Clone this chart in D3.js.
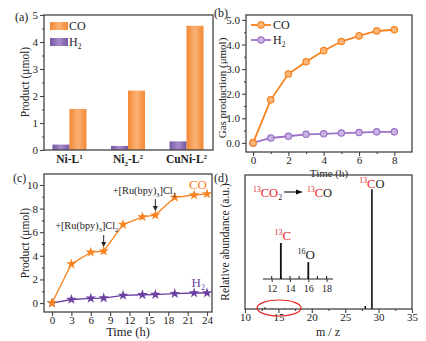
<!DOCTYPE html>
<html>
<head>
<meta charset="utf-8">
<script src="https://cdn.jsdelivr.net/npm/d3@7"></script>
<style>
  body { margin: 0; background: #fff; }
  svg { font-family: "Liberation Serif", "DejaVu Serif", serif; }
</style>
</head>
<body>
<svg id="fig" width="426" height="341"></svg>
<script>
// ---- data ----
// (a) product per catalyst
const catalysts = ['Ni-L1', 'Ni2-L2', 'CuNi-L2'];
const catH2 = [0.2, 0.15, 0.32];
const catCO = [1.52, 2.2, 4.6];

// (b) gas production vs time
const timeB = [0, 1, 2, 3, 4, 5, 6, 7, 8];
const coB = [0, 1.75, 2.8, 3.3, 3.75, 4.12, 4.35, 4.55, 4.6];
const h2B = [0, 0.2, 0.27, 0.35, 0.37, 0.4, 0.42, 0.45, 0.45];

// (c) long run with photosensitizer additions
const timeC = [0, 3, 6, 8, 11, 14, 16, 19, 22, 24];
const coC = [0, 3.3, 4.3, 4.4, 6.65, 7.3, 7.45, 8.95, 9.15, 9.25];
const h2C = [0, 0.3, 0.4, 0.42, 0.65, 0.7, 0.72, 0.8, 0.85, 0.85];
const additions = [8, 16];

// (d) mass spectrum
const mzMain = [12, 13, 14, 16, 28, 29];
const abMain = [0.3, 1.2, 0.4, 0.5, 2.5, 100];
const mzInset = [13, 16];
const abInset = [100, 47];

const ORANGE = '#f7821e', PURPLE_B = '#9b72c8', PURPLE_C = '#6b3fa0', FRAME = '#444';

const svg = d3.select('#fig');
const defs = svg.append('defs');
function grad(id, edge, mid) {
  const g = defs.append('linearGradient').attr('id', id).attr('x1', 0).attr('x2', 1);
  g.append('stop').attr('offset', '0%').attr('stop-color', edge);
  g.append('stop').attr('offset', '50%').attr('stop-color', mid);
  g.append('stop').attr('offset', '100%').attr('stop-color', edge);
}
grad('gCO', '#f28834', '#fbb276');
grad('gH2', '#7656a4', '#a88ccb');

function frame(x0, x1, y0, y1) {
  svg.append('rect').attr('x', x0).attr('y', y0).attr('width', x1 - x0).attr('height', y1 - y0)
    .attr('fill', 'none').attr('stroke', FRAME).attr('stroke-width', 1.3);
}
function styleAxis(g) {
  g.select('.domain').remove();
  g.selectAll('line').attr('stroke', FRAME).attr('stroke-width', 1.1);
  g.selectAll('text').attr('fill', '#222').style('font-size', '11px').style('font-family', '"Liberation Serif", serif');
}
function ylabel(x, y, txt, size) {
  svg.append('text').attr('transform', `translate(${x},${y}) rotate(-90)`).attr('text-anchor', 'middle')
    .style('font-size', (size || 11.5) + 'px').attr('fill', '#222').text(txt);
}
function panelTag(x, y, t) {
  svg.append('text').attr('x', x).attr('y', y).style('font-size', '12px').attr('fill', '#222').text(t);
}
// text with sub/superscript pieces: [[text, 'sup'|'sub'|null, color]]
function rich(x, y, parts, size, anchor, weight) {
  const t = svg.append('text').attr('x', x).attr('y', y).attr('text-anchor', anchor || 'start')
    .style('font-size', size + 'px').style('font-weight', weight || 'normal');
  let shift = 0;
  parts.forEach(([s, kind, col]) => {
    const ts = t.append('tspan').text(s).attr('fill', col || '#222');
    let target = 0;
    if (kind === 'sup') { target = -size * 0.38; ts.style('font-size', (size * 0.62) + 'px'); }
    if (kind === 'sub') { target = size * 0.25; ts.style('font-size', (size * 0.62) + 'px'); }
    ts.attr('dy', target - shift);
    shift = target;
  });
  return t;
}

// ================= (a) =================
{
  const x = d3.scaleBand().domain(catalysts).range([44, 212]).paddingInner(0.42).paddingOuter(0.145);
  const sub = d3.scaleBand().domain(['H2', 'CO']).range([0, x.bandwidth()]);
  const y = d3.scaleLinear().domain([0, 5]).range([150, 15]);

  const gy = svg.append('g').attr('transform', 'translate(44,0)')
    .call(d3.axisLeft(y).ticks(5).tickSize(4).tickPadding(2));
  styleAxis(gy);
  svg.append('g').attr('transform', 'translate(44,0)')
    .call(d3.axisLeft(y).tickValues(d3.range(0.5, 5, 1)).tickSize(2).tickFormat(''))
    .call(styleAxis);

  catalysts.forEach((c, i) => {
    svg.append('rect').attr('x', x(c) + sub('H2')).attr('width', sub.bandwidth())
      .attr('y', y(catH2[i])).attr('height', y(0) - y(catH2[i])).attr('fill', 'url(#gH2)');
    svg.append('rect').attr('x', x(c) + sub('CO')).attr('width', sub.bandwidth())
      .attr('y', y(catCO[i])).attr('height', y(0) - y(catCO[i])).attr('fill', 'url(#gCO)');
  });
  frame(44, 213, 15, 150);

  const lab = [
    [['Ni-L'], ['1', 'sup']],
    [['Ni'], ['2', 'sub'], ['-L'], ['2', 'sup']],
    [['CuNi-L'], ['2', 'sup']]
  ];
  catalysts.forEach((c, i) => {
    rich(x(c) + x.bandwidth() / 2, 163, lab[i].map(p => [p[0], p[1] || null]), 11.5, 'middle', 'bold');
  });

  ylabel(29, 82, 'Product (μmol)');
  panelTag(15, 21, '(a)');

  // legend
  svg.append('rect').attr('x', 50).attr('y', 22).attr('width', 18).attr('height', 8).attr('fill', 'url(#gCO)');
  svg.append('rect').attr('x', 50).attr('y', 38).attr('width', 18).attr('height', 8).attr('fill', 'url(#gH2)');
  rich(69, 30, [['CO', null]], 12);
  rich(69, 46, [['H', null], ['2', 'sub']], 12);
}

// ================= (b) =================
{
  const x = d3.scaleLinear().domain([-0.4, 9.0]).range([246, 412]);
  const y = d3.scaleLinear().domain([-0.37, 5.2]).range([152, 15]);

  svg.append('g').attr('transform', 'translate(246,0)')
    .call(d3.axisLeft(y).tickValues([0, 1, 2, 3, 4, 5]).tickSize(4).tickPadding(2)).call(styleAxis);
  svg.append('g').attr('transform', 'translate(246,0)')
    .call(d3.axisLeft(y).tickValues(d3.range(0.5, 5, 1)).tickSize(2).tickFormat('')).call(styleAxis);
  svg.append('g').attr('transform', 'translate(0,152)')
    .call(d3.axisBottom(x).tickValues([0, 2, 4, 6, 8]).tickSize(4).tickPadding(0)).call(styleAxis);
  svg.append('g').attr('transform', 'translate(0,152)')
    .call(d3.axisBottom(x).tickValues([1, 3, 5, 7]).tickSize(2).tickFormat('')).call(styleAxis);

  const line = d3.line().x(d => x(d[0])).y(d => y(d[1]));
  const series = [[h2B, PURPLE_B, '#c9b3e3'], [coB, ORANGE, '#fbb77a']];
  series.forEach(([vals, col, fill]) => {
    const pts = timeB.map((t, i) => [t, vals[i]]);
    svg.append('path').datum(pts).attr('d', line).attr('fill', 'none').attr('stroke', col).attr('stroke-width', 1.8);
    svg.selectAll(null).data(pts).enter().append('circle')
      .attr('cx', d => x(d[0])).attr('cy', d => y(d[1])).attr('r', 3.2)
      .attr('fill', fill).attr('stroke', col).attr('stroke-width', 1.2);
  });
  frame(246, 412, 15, 152);

  ylabel(226, 88, 'Gas production (μmol)', 11);
  svg.append('text').attr('x', 329).attr('y', 177).attr('text-anchor', 'middle')
    .style('font-size', '11px').attr('fill', '#222').text('Time (h)');
  panelTag(214, 17, '(b)');

  // legend
  [[25, ORANGE, '#fbb77a', [['CO', null]]], [40, PURPLE_B, '#c9b3e3', [['H', null], ['2', 'sub']]]].forEach(([ly, col, fill, txt]) => {
    svg.append('line').attr('x1', 251).attr('x2', 271).attr('y1', ly).attr('y2', ly).attr('stroke', col).attr('stroke-width', 1.8);
    svg.append('circle').attr('cx', 261).attr('cy', ly).attr('r', 3.2).attr('fill', fill).attr('stroke', col).attr('stroke-width', 1.2);
    rich(273, ly + 4, txt, 12);
  });
}

// ================= (c) =================
{
  const x = d3.scaleLinear().domain([-1.24, 24.77]).range([44, 212]);
  const y = d3.scaleLinear().domain([-0.76, 10.93]).range([312, 174]);

  svg.append('g').attr('transform', 'translate(44,0)')
    .call(d3.axisLeft(y).tickValues([0, 2, 4, 6, 8, 10]).tickSize(4).tickPadding(2)).call(styleAxis);
  svg.append('g').attr('transform', 'translate(44,0)')
    .call(d3.axisLeft(y).tickValues(d3.range(1, 11, 2)).tickSize(2).tickFormat('')).call(styleAxis);
  svg.append('g').attr('transform', 'translate(0,312)')
    .call(d3.axisBottom(x).tickValues(d3.range(0, 25, 3)).tickSize(4).tickPadding(0)).call(styleAxis);

  const line = d3.line().x(d => x(d[0])).y(d => y(d[1]));
  const star = d3.symbol().type(d3.symbolStar).size(34);
  [[h2C, PURPLE_C], [coC, ORANGE]].forEach(([vals, col]) => {
    const pts = timeC.map((t, i) => [t, vals[i]]);
    svg.append('path').datum(pts).attr('d', line).attr('fill', 'none').attr('stroke', col).attr('stroke-width', 1.3);
    svg.selectAll(null).data(pts).enter().append('path')
      .attr('d', star).attr('transform', d => `translate(${x(d[0])},${y(d[1])})`).attr('fill', col);
  });
  frame(44, 212, 174, 312);

  // addition arrows
  const labelY = [229, 194];
  const labelDx = [-17, -11];
  additions.forEach((t, i) => {
    const yv = coC[timeC.indexOf(t)];
    const yTip = y(yv) - 4;
    svg.append('line').attr('x1', x(t)).attr('x2', x(t)).attr('y1', yTip - 12).attr('y2', yTip - 4)
      .attr('stroke', '#222').attr('stroke-width', 1);
    svg.append('path').attr('d', `M${x(t) - 2.5},${yTip - 5} L${x(t) + 2.5},${yTip - 5} L${x(t)},${yTip} Z`).attr('fill', '#222');
    rich(x(t) + labelDx[i], labelY[i], [['+[Ru(bpy)', null], ['3', 'sub'], [']Cl', null], ['2', 'sub']], 10.3, 'middle');
  });

  rich(207, 189, [['CO', null, ORANGE]], 13, 'end');
  rich(205, 287, [['H', null, PURPLE_C], ['2', 'sub', PURPLE_C]], 13, 'end');

  ylabel(29, 243, 'Product (μmol)');
  svg.append('text').attr('x', 128).attr('y', 336).attr('text-anchor', 'middle')
    .style('font-size', '12.5px').attr('fill', '#222').text('Time (h)');
  panelTag(13, 182, '(c)');
}

// ================= (d) =================
{
  const x = d3.scaleLinear().domain([10, 35]).range([245, 412]);
  const y = d3.scaleLinear().domain([0, 112]).range([309, 175]);

  svg.append('g').attr('transform', 'translate(0,309)')
    .call(d3.axisBottom(x).tickValues(d3.range(10, 36, 5)).tickSize(4).tickPadding(0)).call(styleAxis);
  svg.append('g').attr('transform', 'translate(0,309)')
    .call(d3.axisBottom(x).tickValues(d3.range(12.5, 35, 5)).tickSize(2).tickFormat('')).call(styleAxis);

  svg.selectAll(null).data(mzMain.map((m, i) => [m, abMain[i]])).enter().append('line')
    .attr('x1', d => x(d[0])).attr('x2', d => x(d[0])).attr('y1', y(0)).attr('y2', d => y(d[1]))
    .attr('stroke', '#111').attr('stroke-width', 1.6);
  frame(245, 412, 175, 309);

  // inset
  const xi = d3.scaleLinear().domain([11.05, 18.7]).range([263, 333]);
  const yi = d3.scaleLinear().domain([0, 100]).range([279, 243]);
  svg.append('line').attr('x1', 263).attr('x2', 333).attr('y1', 279).attr('y2', 279).attr('stroke', '#222').attr('stroke-width', 1.2);
  const gi = svg.append('g').attr('transform', 'translate(0,279)')
    .call(d3.axisBottom(xi).tickValues([12, 14, 16, 18]).tickSize(3).tickPadding(3)).call(styleAxis);
  gi.selectAll('text').style('font-size', '10px');
  svg.selectAll(null).data(d3.range(12, 19)).enter().append('line')
    .attr('x1', d => xi(d)).attr('x2', d => xi(d)).attr('y1', 276).attr('y2', 279)
    .attr('stroke', '#222').attr('stroke-width', 1.1);
  svg.selectAll(null).data(mzInset.map((m, i) => [m, abInset[i]])).enter().append('line')
    .attr('x1', d => xi(d[0])).attr('x2', d => xi(d[0])).attr('y1', yi(0)).attr('y2', d => yi(d[1]))
    .attr('stroke', '#111').attr('stroke-width', 1.8);
  rich(xi(13) + 2, yi(100) - 3, [['13', 'sup', '#e8262a'], ['C', null, '#e8262a']], 13, 'middle');
  rich(xi(16) - 2, yi(47) - 3, [['16', 'sup'], ['O', null]], 13, 'middle');

  // labels
  rich(x(29), 188, [['13', 'sup', '#e8262a'], ['C', null, '#e8262a'], ['O', null]], 12.5, 'middle');
  rich(253, 197, [['13', 'sup', '#e8262a'], ['CO', null, '#e8262a'], ['2', 'sub']], 12.5);
  svg.append('line').attr('x1', 284).attr('x2', 298).attr('y1', 192).attr('y2', 192).attr('stroke', '#111').attr('stroke-width', 1.1);
  svg.append('path').attr('d', 'M296,189.5 L303,192 L296,194.5 Z').attr('fill', '#111');
  rich(307, 197, [['13', 'sup', '#e8262a'], ['C', null, '#e8262a'], ['O', null]], 12.5);

  svg.append('ellipse').attr('cx', x(15.1)).attr('cy', 308).attr('rx', 22).attr('ry', 8)
    .attr('fill', 'none').attr('stroke', '#e8262a').attr('stroke-width', 1.2);

  ylabel(229, 242, 'Relative abundance (a.u.)');
  svg.append('text').attr('x', 328).attr('y', 336).attr('text-anchor', 'middle')
    .style('font-size', '12px').attr('fill', '#222').text('m / z');
  panelTag(214, 182, '(d)');
}
</script>
</body>
</html>
